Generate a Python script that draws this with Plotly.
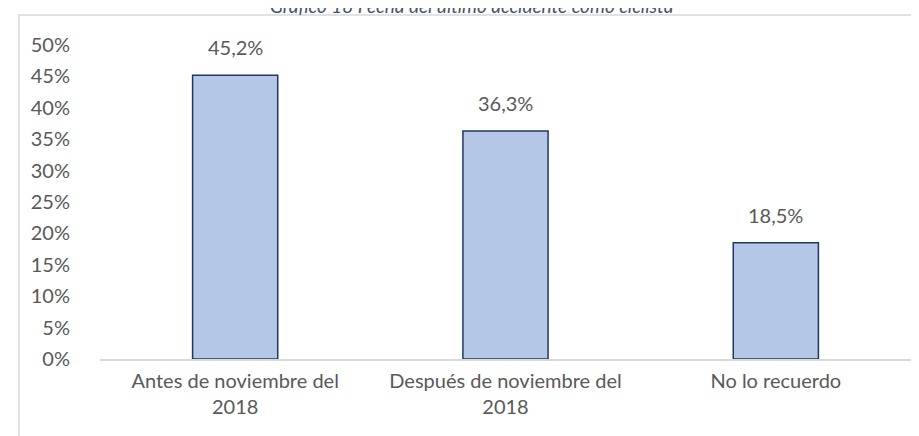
import plotly.graph_objects as go

# DATOS DEL GRAFICO
categorias = ['Antes de noviembre del<br>2018', 'Después de noviembre del<br>2018', 'No lo recuerdo']
valores = [0.452, 0.363, 0.185]
titulo = 'Gráfico 18 Fecha del último accidente como ciclista'
ticks_y = [0, 0.05, 0.10, 0.15, 0.20, 0.25, 0.30, 0.35, 0.40, 0.45, 0.50]

fuente = 'Lato'
gris = '#595959'

fig = go.Figure()

# BARRAS
fig.add_trace(go.Bar(x=categorias, y=valores,
                     marker=dict(color='#B4C7E7', line=dict(color='#203864', width=1.5)),
                     width=0.315, hoverinfo='skip'))

# ETIQUETAS DE DATOS ENCIMA DE LAS BARRAS (COMA DECIMAL)
for c, v in zip(categorias, valores):
    fig.add_annotation(x=c, y=v, text='{:.1f}%'.format(v * 100).replace('.', ','),
                       showarrow=False, yanchor='bottom', yshift=14,
                       font=dict(family=fuente, size=20, color=gris))

# TITULO (CORTADO ARRIBA COMO EN LA IMAGEN)
fig.add_annotation(xref='paper', yref='paper', x=0.458, y=1.125, text='<i>' + titulo + '</i>',
                   showarrow=False, yanchor='middle', xanchor='center',
                   font=dict(family=fuente, size=19, color='#44546A'))

# BORDE DEL AREA DEL GRAFICO
fig.add_shape(type='rect', xref='paper', yref='paper', x0=-0.0999, x1=1.04, y0=-0.35, y1=1.0955,
              line=dict(color='#D9D9D9', width=1.5), layer='below')

fig.update_layout(width=919, height=436,
                  margin=dict(l=92, r=16, t=37, b=85),
                  plot_bgcolor='white', paper_bgcolor='white',
                  showlegend=False,
                  separators=',.',
                  font=dict(family=fuente, size=20, color=gris))

fig.update_xaxes(showline=True, linecolor='#D9D9D9', linewidth=1.5, ticks='',
                 ticklabelstandoff=3,
                 tickfont=dict(family=fuente, size=20, color=gris), fixedrange=True)
fig.update_yaxes(range=[0, 0.5], tickvals=ticks_y, tickformat='.0%', showgrid=False,
                 zeroline=False, showline=False, ticklabelstandoff=29,
                 tickfont=dict(family=fuente, size=20, color=gris), fixedrange=True)

fig.write_html('out.html')
